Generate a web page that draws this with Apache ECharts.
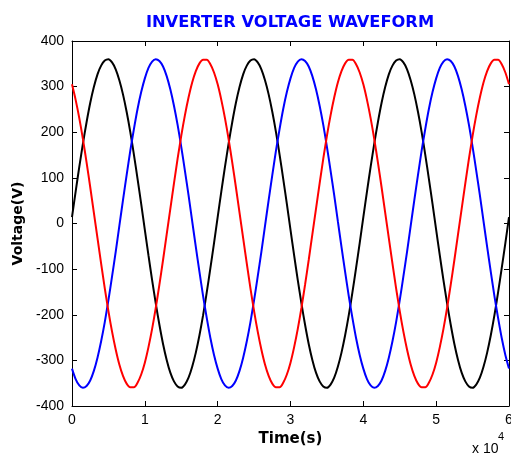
<!DOCTYPE html>
<html>
<head>
<meta charset="utf-8">
<script src="https://cdn.jsdelivr.net/npm/echarts@6/dist/echarts.min.js"></script>
<style>html,body{margin:0;padding:0;background:#fff;overflow:hidden}#c{width:511px;height:457px}</style>
</head>
<body>
<div id="c"></div>
<script>
// Time samples (s)
var times = [0,500,1000,1500,2000,2500,3000,3500,4000,4500,5000,5500,6000,6500,7000,7500,8000,8500,9000,9500,
  10000,10500,11000,11500,12000,12500,13000,13500,14000,14500,15000,15500,16000,16500,17000,17500,18000,18500,19000,19500,
  20000,20500,21000,21500,22000,22500,23000,23500,24000,24500,25000,25500,26000,26500,27000,27500,28000,28500,29000,29500,
  30000,30500,31000,31500,32000,32500,33000,33500,34000,34500,35000,35500,36000,36500,37000,37500,38000,38500,39000,39500,
  40000,40500,41000,41500,42000,42500,43000,43500,44000,44500,45000,45500,46000,46500,47000,47500,48000,48500,49000,49500,
  50000,50500,51000,51500,52000,52500,53000,53500,54000,54500,55000,55500,56000,56500,57000,57500,58000,58500,59000,59500,60000];
// Phase voltages (V)
var phaseBlack = [14,70,124,175,222,264,299,327,346,357,360,353,338,314,283,245,201,151,98,43,
  -14,-70,-124,-175,-222,-264,-299,-327,-346,-357,-360,-353,-338,-314,-283,-245,-201,-151,-98,-43,
  14,70,124,175,222,264,299,327,346,357,360,353,338,314,283,245,201,151,98,43,
  -14,-70,-124,-175,-222,-264,-299,-327,-346,-357,-360,-353,-338,-314,-283,-245,-201,-151,-98,-43,
  14,70,124,175,222,264,299,327,346,357,360,353,338,314,283,245,201,151,98,43,
  -14,-70,-124,-175,-222,-264,-299,-327,-346,-357,-360,-353,-338,-314,-283,-245,-201,-151,-98,-43,14];
var phaseBlue = [-318,-341,-355,-360,-356,-344,-323,-294,-258,-216,-168,-116,-62,-5,51,106,159,207,251,288,
  318,341,355,360,356,344,323,294,258,216,168,116,62,5,-51,-106,-159,-207,-251,-288,
  -318,-341,-355,-360,-356,-344,-323,-294,-258,-216,-168,-116,-62,-5,51,106,159,207,251,288,
  318,341,355,360,356,344,323,294,258,216,168,116,62,5,-51,-106,-159,-207,-251,-288,
  -318,-341,-355,-360,-356,-344,-323,-294,-258,-216,-168,-116,-62,-5,51,106,159,207,251,288,
  318,341,355,360,356,344,323,294,258,216,168,116,62,5,-51,-106,-159,-207,-251,-288,-318];
var phaseRed = [305,271,231,185,134,80,24,-32,-88,-142,-192,-237,-276,-309,-334,-351,-359,-359,-349,-331,
  -305,-271,-231,-185,-134,-80,-24,32,88,142,192,237,276,309,334,351,359,359,349,331,
  305,271,231,185,134,80,24,-32,-88,-142,-192,-237,-276,-309,-334,-351,-359,-359,-349,-331,
  -305,-271,-231,-185,-134,-80,-24,32,88,142,192,237,276,309,334,351,359,359,349,331,
  305,271,231,185,134,80,24,-32,-88,-142,-192,-237,-276,-309,-334,-351,-359,-359,-349,-331,
  -305,-271,-231,-185,-134,-80,-24,32,88,142,192,237,276,309,334,351,359,359,349,331,305];
var xTickLabels = ['0','1','2','3','4','5','6'];
var yTicks = [-400,-300,-200,-100,0,100,200,300,400];

function pairs(v){ return times.map(function(t,i){ return [t, v[i]]; }); }

var chart = echarts.init(document.getElementById('c'));
var font = 'Arial, "Liberation Sans", sans-serif';
var boldFont = '"DejaVu Sans", sans-serif';
var tickStyle = {show:true, inside:true, length:5, lineStyle:{color:'#000', width:1}};
function lineAx(){ return {show:true, onZero:false, lineStyle:{color:'#000', width:1}}; }
function mkSeries(name, data, color){
  return {name:name, type:'line', data:pairs(data), showSymbol:false, symbol:'none', smooth:0.3,
    lineStyle:{color:color, width:2}, itemStyle:{color:color}, animation:false, clip:true};
}
chart.setOption({
  animation:false,
  backgroundColor:'#fff',
  title:{text:'INVERTER VOLTAGE WAVEFORM', left:285, top:10, textAlign:'center',
    textStyle:{color:'#0000ff', fontSize:16.3, fontWeight:'bold', fontFamily:boldFont}},
  grid:{left:72, right:2, top:41, bottom:51, containLabel:false, outerBoundsMode:'none'},
  xAxis:[{type:'value', min:0, max:60000, interval:10000,
      name:'Time(s)', nameLocation:'middle', nameGap:26,
      nameTextStyle:{color:'#000', fontSize:15, fontWeight:'bold', fontFamily:boldFont},
      axisLine:lineAx(), axisTick:tickStyle, splitLine:{show:false},
      axisLabel:{color:'#000', fontSize:14, fontFamily:font, margin:7,
        formatter:function(v){ return xTickLabels[Math.round(v/10000)]; }}},
    {type:'value', position:'top', min:0, max:60000, interval:10000,
      axisLine:lineAx(), axisTick:tickStyle, splitLine:{show:false}, axisLabel:{show:false}}],
  yAxis:[{type:'value', min:-400, max:400, interval:100,
      name:'Voltage(V)', nameLocation:'middle', nameGap:47, nameRotate:90,
      nameTextStyle:{color:'#000', fontSize:14, fontWeight:'bold', fontFamily:boldFont},
      axisLine:lineAx(), axisTick:tickStyle, splitLine:{show:false},
      axisLabel:{color:'#000', fontSize:14, fontFamily:font, margin:8,
        formatter:function(v){ return yTicks.indexOf(v) >= 0 ? String(v) : ''; }}},
    {type:'value', position:'right', min:-400, max:400, interval:100,
      axisLine:lineAx(), axisTick:tickStyle, splitLine:{show:false}, axisLabel:{show:false}}],
  graphic:[
    {type:'text', left:472, top:442, style:{text:'x 10', fill:'#000', fontSize:14, fontFamily:font}},
    {type:'text', left:498, top:431, style:{text:'4', fill:'#000', fontSize:11, fontFamily:font}}],
  series:[mkSeries('black', phaseBlack, '#000000'),
          mkSeries('blue', phaseBlue, '#0000ff'),
          mkSeries('red', phaseRed, '#ff0000')]
});
</script>
</body>
</html>
